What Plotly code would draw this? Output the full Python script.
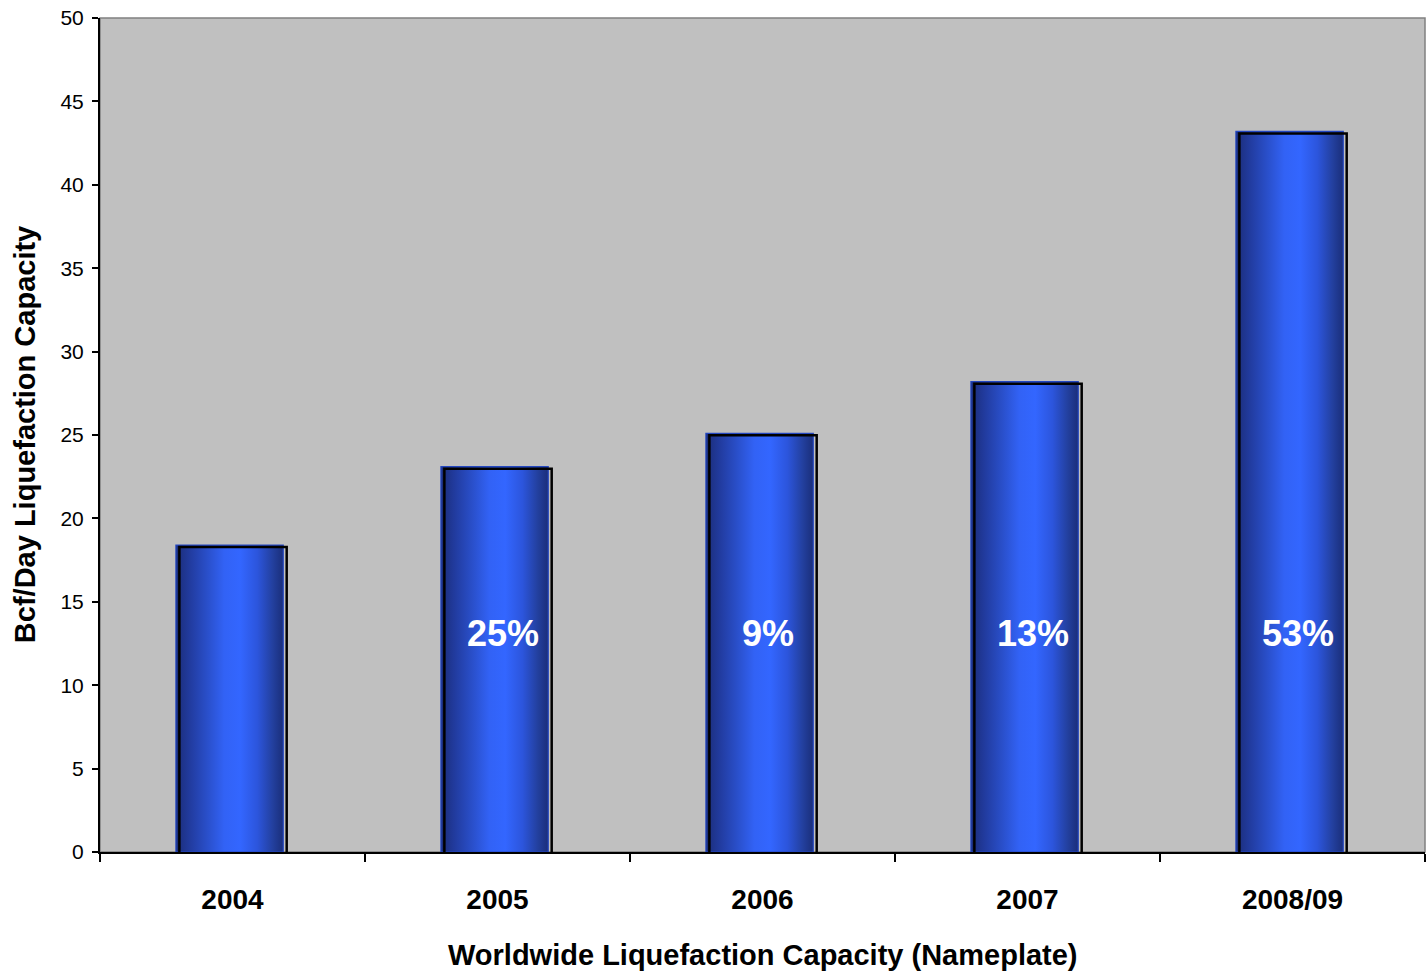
import plotly.graph_objects as go

# Worldwide LNG liquefaction capacity, Bcf/day
years = ["2004", "2005", "2006", "2007", "2008/09"]
capacity = [18.4, 23.1, 25.1, 28.2, 43.2]
growth_labels = ["", "25%", "9%", "13%", "53%"]
y_ticks = [0, 5, 10, 15, 20, 25, 30, 35, 40, 45, 50]

FONT = "Arial, Liberation Sans, sans-serif"
BAR_W = 0.405         # bar width in category units
FILL_DX = -0.011      # fill slightly left of the outline
LINE_DX = 0.002
LINE_DY = 0.12

gradient = [
    [0.00, "#1b2d78"],
    [0.12, "#213a9c"],
    [0.30, "#2a50cc"],
    [0.45, "#3262f5"],
    [0.60, "#3366ff"],
    [0.76, "#2c55dc"],
    [0.90, "#23409f"],
    [1.00, "#1a2e7a"],
]

fig = go.Figure()

for i, v in enumerate(capacity):
    x0, x1 = i - BAR_W / 2 + FILL_DX, i + BAR_W / 2 + FILL_DX
    fig.add_trace(go.Scatter(
        x=[x0, x1, x1, x0, x0], y=[0, 0, v, v, 0],
        mode="lines", fill="toself",
        line=dict(width=1.2, color="#2447c0"),
        fillgradient=dict(type="horizontal", colorscale=gradient),
        hoverinfo="skip", showlegend=False,
    ))
    ox0, ox1 = i - BAR_W / 2 + LINE_DX, i + BAR_W / 2 + LINE_DX
    top = v - LINE_DY
    fig.add_trace(go.Scatter(
        x=[ox0, ox0, ox1, ox1], y=[-1, top, top, -1],
        mode="lines", line=dict(width=2.5, color="#000000"),
        hoverinfo="skip", showlegend=False,
    ))

for i, lab in enumerate(growth_labels):
    if lab:
        fig.add_annotation(
            x=i, y=13.1, text=f"<b>{lab}</b>", showarrow=False,
            xshift=5, font=dict(family=FONT, size=36, color="white"),
        )

# axis titles
fig.add_annotation(
    xref="paper", yref="paper", x=0.5, y=-0.124, yanchor="middle",
    text="<b>Worldwide Liquefaction Capacity (Nameplate)</b>", showarrow=False,
    font=dict(family=FONT, size=29, color="black"),
)
fig.add_annotation(
    xref="paper", yref="paper", x=-0.0565, y=0.5, xanchor="center",
    text="<b>Bcf/Day Liquefaction Capacity</b>", showarrow=False, textangle=-90,
    font=dict(family=FONT, size=29, color="black"),
)

# plot-area frame
fig.add_shape(type="rect", xref="paper", yref="paper", x0=0, y0=0, x1=1, y1=1,
              line=dict(color="#808080", width=1.5), layer="below")

fig.update_layout(
    width=1426, height=971,
    margin=dict(l=100, r=1, t=18, b=119),
    paper_bgcolor="white", plot_bgcolor="#c0c0c0",
    font=dict(family=FONT, color="black"),
    showlegend=False,
)
fig.update_xaxes(
    range=[-0.5, len(years) - 0.5],
    tickmode="array", tickvals=list(range(len(years))),
    ticktext=[f"<b>{y}</b>" for y in years],
    ticks="", ticklabelstandoff=21,
    tickfont=dict(family=FONT, size=28, color="black"),
    showgrid=False, zeroline=False,
    showline=True, linecolor="#000000", linewidth=2,
    minor=dict(tickmode="linear", tick0=-0.5, dtick=1, ticks="outside",
               ticklen=8, tickwidth=1.5, tickcolor="#000000", showgrid=False),
    fixedrange=True,
)
fig.update_yaxes(
    range=[0, 50], tickmode="array", tickvals=y_ticks,
    ticks="outside", ticklen=6, tickwidth=1.5, tickcolor="#000000",
    ticklabelstandoff=4,
    tickfont=dict(family=FONT, size=21, color="black"),
    showgrid=False, zeroline=False,
    showline=True, linecolor="#000000", linewidth=2,
    fixedrange=True,
)

fig.write_html("out.html")
